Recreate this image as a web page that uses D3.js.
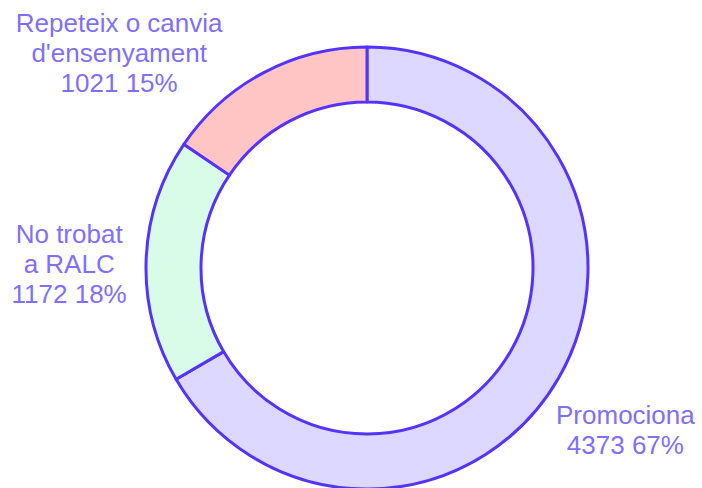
<!DOCTYPE html>
<html><head><meta charset="utf-8">
<script src="https://cdn.jsdelivr.net/npm/d3@7"></script>
<style>html,body{margin:0;padding:0;background:#fff;}svg{display:block;}</style>
</head><body>
<svg id="chart" width="702" height="488"></svg>
<script>
const categories = ["Promociona", "No trobat a RALC", "Repeteix o canvia d'ensenyament"];
const labelLines = [["Promociona"], ["No trobat", "a RALC"], ["Repeteix o canvia", "d'ensenyament"]];
const values = [4373, 1172, 1021];
const percents = [67, 18, 15];
const fills = ["#ddd8ff", "#d8fce8", "#ffc5c5"];

const W = 702, H = 488;
const cx = 367, cy = 268, R = 221, r = 166;
const svg = d3.select("#chart");
const g = svg.append("g").attr("transform", `translate(${cx},${cy})`);

const pie = d3.pie().sort(null).value(d => d)(values);
const arc = d3.arc().innerRadius(r).outerRadius(R);

g.selectAll("path").data(pie).join("path")
  .attr("d", arc)
  .attr("fill", (d, i) => fills[i])
  .attr("stroke", "#5533ff")
  .attr("stroke-width", 3)
  .attr("stroke-linejoin", "round");

const fs = 26, lh = 30, cap = 18.6, margin = 6, pad = 3, labelRx = 298, labelRy = 312, dy = 6;
const ctx = document.createElement("canvas").getContext("2d");
ctx.font = `${fs}px "Liberation Sans", Arial, sans-serif`;

pie.forEach((d, i) => {
  const lines = labelLines[i].concat([`${values[i]} ${percents[i]}%`]);
  const wMax = d3.max(lines, s => ctx.measureText(s).width);
  const hBox = (lines.length - 1) * lh + cap;
  const a = (d.startAngle + d.endAngle) / 2;
  let x = cx + labelRx * Math.sin(a);
  let y = cy - labelRy * Math.cos(a) + dy;
  // clamp to viewport
  x = Math.max(margin + wMax / 2, Math.min(W - margin - wMax / 2, x));
  y = Math.max(13 + hBox / 2, Math.min(H - margin - hBox / 2, y));
  // push horizontally until clear of donut
  const dir = x < cx ? -1 : 1;
  const clear = (x, y) => {
    const x0 = x - wMax / 2, x1 = x + wMax / 2, y0 = y - hBox / 2, y1 = y + hBox / 2 + 5;
    const nx = Math.max(x0, Math.min(cx, x1)), ny = Math.max(y0, Math.min(cy, y1));
    return Math.hypot(nx - cx, ny - cy) > R + pad;
  };
  let guard = 0;
  while (!clear(x, y) && guard++ < 400) x += dir;
  const t = svg.append("text")
    .attr("text-anchor", "middle")
    .attr("font-family", '"Liberation Sans", Arial, sans-serif')
    .attr("font-size", fs)
    .attr("fill", "#7f6fff");
  const firstBase = y - hBox / 2 + cap;
  lines.forEach((s, k) => {
    t.append("tspan").attr("x", x).attr("y", firstBase + k * lh).text(s);
  });
});
</script>
</body></html>
